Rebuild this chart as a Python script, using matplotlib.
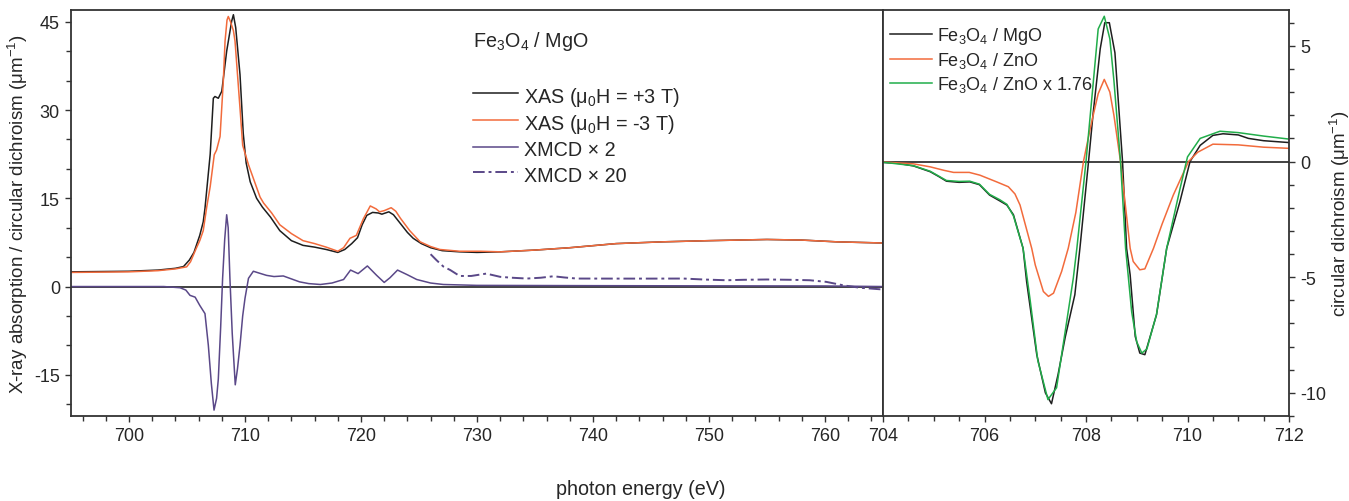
import numpy as np
import matplotlib
matplotlib.use('Agg')
import matplotlib.pyplot as plt
from matplotlib.ticker import MultipleLocator

plt.rcParams['font.family'] = ['Liberation Sans', 'DejaVu Sans']
plt.rcParams['mathtext.default'] = 'regular'
plt.rcParams['axes.unicode_minus'] = False
plt.rcParams['font.size'] = 13

# ---- left panel: XAS and XMCD of Fe3O4 / MgO ----
xas_p_e = [695, 700, 702.5, 704, 704.7, 705.2, 705.6, 706.1, 706.4, 706.55, 707.0, 707.27,
           707.41, 707.7, 708.0, 708.42, 708.85, 709.0, 709.2, 709.57, 709.85, 710.1, 710.45,
           711.0, 711.5, 712.2, 713.0, 714.0, 715.0, 716.0, 717.0, 718.0, 718.6, 719.2, 719.7,
           720.1, 720.5, 721.0, 721.5, 721.8, 722.4, 722.8, 723.4, 724.0, 724.5, 725.2, 726.0,
           727.0, 728.5, 730.0, 732.0, 735.0, 738.0, 742.0, 746.0, 750.0, 755.0, 758.0, 761.0, 765.0]
xas_p_v = [2.5, 2.6, 2.8, 3.1, 3.4, 4.5, 5.8, 8.7, 11.0, 13.3, 22.5, 32.0,
           32.3, 32.0, 33.2, 40.0, 45.1, 46.2, 44.0, 36.0, 26.0, 21.0, 17.8,
           15.0, 13.5, 11.8, 9.5, 7.8, 7.0, 6.7, 6.3, 5.8, 6.3, 7.3, 8.3,
           10.5, 12.1, 12.6, 12.5, 12.3, 12.7, 12.2, 10.7, 9.2, 8.2, 7.3, 6.6,
           6.1, 5.9, 5.8, 5.9, 6.2, 6.6, 7.3, 7.6, 7.8, 8.0, 7.9, 7.6, 7.4]

xas_m_e = [695, 700, 702.5, 704, 704.97, 705.3, 705.8, 706.1, 706.4, 706.7, 707.0, 707.35,
           707.55, 707.85, 708.13, 708.28, 708.45, 708.56, 708.75, 709.0, 709.14, 709.57, 709.8,
           710.3, 711.3, 711.6, 712.3, 713.0, 714.0, 715.0, 716.0, 717.0, 718.0, 718.5, 719.05,
           719.6, 720.2, 720.8, 721.3, 721.6, 722.0, 722.6, 723.0, 723.4, 724.2, 725.1, 726.0,
           726.8, 728.5, 730.3, 732.0, 735.0, 738.0, 742.0, 746.0, 750.0, 755.0, 758.0, 761.0, 765.0]
xas_m_v = [2.4, 2.5, 2.7, 3.0, 3.35, 4.2, 6.5, 7.8, 9.5, 13.5, 17.0, 22.4,
           23.2, 25.5, 34.9, 41.7, 45.3, 45.9, 45.0, 43.5, 41.7, 30.3, 24.0,
           20.7, 15.2, 14.2, 12.5, 10.5, 9.0, 7.8, 7.3, 6.7, 6.0, 6.6, 8.2,
           8.7, 11.5, 13.7, 13.2, 12.7, 12.9, 13.4, 12.8, 11.6, 9.5, 7.6, 6.8,
           6.3, 6.0, 6.0, 5.9, 6.2, 6.6, 7.3, 7.6, 7.8, 8.0, 7.9, 7.6, 7.4]

xmcd2_e = [695, 703, 704.4, 704.9, 705.26, 705.7, 706.1, 706.55, 706.84, 707.1, 707.33, 707.55,
           707.7, 707.9, 708.07, 708.25, 708.42, 708.55, 708.7, 708.9, 709.16, 709.35, 709.57,
           709.8, 710.0, 710.3, 710.72, 711.2, 711.86, 712.5, 713.3, 714.0, 714.7, 715.5, 716.5,
           717.5, 718.5, 719.1, 719.75, 720.55, 721.35, 722.0, 722.5, 723.15, 724.0, 724.8, 726.0,
           727.1, 730.0, 740.0, 750.0, 760.0, 765.0]
xmcd2_v = [0, 0, -0.2, -0.6, -1.5, -1.8, -3.2, -4.6, -10.0, -16.5, -21.0, -19.0,
           -15.7, -7.0, 1.4, 8.0, 12.2, 10.0, 1.4, -8.0, -16.7, -14.0, -10.0,
           -5.0, -2.0, 1.4, 2.6, 2.3, 1.9, 1.7, 1.8, 1.3, 0.8, 0.5, 0.35,
           0.6, 1.2, 2.8, 2.2, 3.5, 1.9, 0.7, 1.5, 2.8, 2.0, 1.2, 0.6,
           0.35, 0.2, 0.15, 0.12, 0.1, 0.0]

xmcd20_e = [726.0, 726.5, 727.1, 727.7, 728.5, 729.5, 730.8, 732.0, 733.0, 734.3, 735.5, 736.6,
            737.5, 738.6, 742.0, 745.0, 747.8, 749.5, 751.5, 753.0, 755.0, 757.0, 758.7, 760.1,
            761.6, 763.0, 765.0]
xmcd20_v = [5.5, 4.5, 3.4, 2.8, 1.8, 1.8, 2.2, 1.65, 1.5, 1.36, 1.5, 1.75,
            1.55, 1.36, 1.35, 1.35, 1.36, 1.2, 1.07, 1.15, 1.2, 1.15, 1.07, 0.8,
            0.2, -0.2, -0.5]

# ---- right panel: XMCD comparison ----
mgo_e = [704.0, 704.3, 704.6, 704.93, 705.1, 705.25, 705.5, 705.71, 705.9, 706.1, 706.3, 706.44,
         706.57, 706.76, 706.83, 707.03, 707.2, 707.32, 707.45, 707.59, 707.78, 707.88, 708.05,
         708.14, 708.28, 708.37, 708.46, 708.57, 708.72, 708.8, 708.87, 708.97, 709.06, 709.16,
         709.39, 709.59, 709.85, 710.05, 710.25, 710.5, 710.7, 711.0, 711.2, 711.5, 712.0]
mgo_v = [-0.04, -0.08, -0.19, -0.44, -0.65, -0.85, -0.9, -0.88, -1.0, -1.45, -1.7, -1.88,
         -2.3, -3.75, -5.19, -8.35, -10.0, -10.47, -9.2, -7.6, -5.76, -3.75, 0.0,
         2.07, 4.87, 6.0, 6.0, 4.7, 0.0, -3.75, -4.9, -7.56, -8.28, -8.35,
         -6.62, -3.75, -1.74, 0.0, 0.7, 1.13, 1.2, 1.15, 1.0, 0.9, 0.82]

zno_e = [704.0, 704.6, 704.93, 705.2, 705.39, 705.7, 705.91, 706.24, 706.47, 706.6, 706.7, 706.93,
         707.0, 707.16, 707.26, 707.36, 707.52, 707.65, 707.8, 707.95, 708.1, 708.24, 708.36,
         708.47, 708.55, 708.68, 708.87, 708.93, 709.06, 709.16, 709.33, 709.5, 709.72, 710.02,
         710.2, 710.5, 711.0, 711.5, 712.0]
zno_v = [-0.02, -0.1, -0.23, -0.38, -0.47, -0.47, -0.59, -0.88, -1.09, -1.4, -1.88, -3.75,
         -4.47, -5.62, -5.83, -5.69, -4.75, -3.75, -2.2, 0.0, 1.6, 2.93, 3.55,
         3.0, 2.0, 0.0, -3.75, -4.32, -4.68, -4.64, -3.75, -2.7, -1.45, 0.0,
         0.4, 0.75, 0.72, 0.62, 0.57]

zno176_e = [704.0, 704.6, 704.93, 705.25, 705.5, 705.71, 705.9, 706.1, 706.3, 706.44, 706.57, 706.76,
            706.9, 707.05, 707.25, 707.42, 707.6, 707.75, 707.82, 708.0, 708.24, 708.36, 708.47,
            708.55, 708.68, 708.78, 708.9, 709.0, 709.1, 709.2, 709.39, 709.59, 709.85, 710.0,
            710.25, 710.64, 711.0, 711.5, 712.0]
zno176_v = [-0.03, -0.18, -0.42, -0.82, -0.86, -0.85, -0.98, -1.42, -1.65, -1.85, -2.35, -3.75,
            -6.0, -8.6, -10.29, -9.78, -7.2, -5.04, -3.75, 0.0, 5.73, 6.28, 5.3,
            3.5, 0.0, -3.75, -6.5, -7.8, -8.28, -8.1, -6.6, -3.75, -1.2, 0.2,
            1.0, 1.31, 1.25, 1.1, 0.97]

BLACK = '#1e1e1e'
ORANGE = '#f26b3c'
PURPLE = '#5a4888'
GREEN = '#21ad4a'
SPINE = '#333333'
TEXT = '#262626'


def style_axes(ax):
    for sp in ax.spines.values():
        sp.set_color(SPINE)
        sp.set_linewidth(1.3)
    ax.tick_params(which='major', direction='out', length=4.5, width=1.0, color=SPINE,
                   labelsize=13, labelcolor=TEXT)
    ax.tick_params(which='minor', direction='out', length=3.5, width=1.0, color=SPINE)


fig = plt.figure(figsize=(13.49, 5.02), dpi=100)
ax1 = fig.add_axes([71 / 1349, 85 / 502, 812 / 1349, 406 / 502])
ax2 = fig.add_axes([883 / 1349, 85 / 502, 406 / 1349, 406 / 502])

# left panel
ax1.axhline(0, color=SPINE, lw=1.3, zorder=1)
ax1.plot(xas_p_e, xas_p_v, color=BLACK, lw=1.1, label='XAS (μ$_0$H = +3 T)')
ax1.plot(xas_m_e, xas_m_v, color=ORANGE, lw=1.1, label='XAS (μ$_0$H = -3 T)')
ax1.plot(xmcd2_e, xmcd2_v, color=PURPLE, lw=1.1, label='XMCD × 2')
ax1.plot(xmcd20_e, xmcd20_v, color=PURPLE, lw=1.4, ls=(0, (6, 2, 1.5, 2)), label='XMCD × 20')
ax1.set_xlim(695, 765)
ax1.set_ylim(-22, 47)
ax1.set_xticks([700, 710, 720, 730, 740, 750, 760])
ax1.xaxis.set_minor_locator(MultipleLocator(2))
ax1.yaxis.set_major_locator(MultipleLocator(15))
ax1.yaxis.set_minor_locator(MultipleLocator(5))
style_axes(ax1)
ax1.set_ylabel('X-ray absorption / circular dichroism (μm$^{-1}$)', fontsize=13.5,
               color=TEXT, labelpad=3)
ax1.text(0.495, 0.924, 'Fe$_3$O$_4$ / MgO', transform=ax1.transAxes, fontsize=14.2,
         color=TEXT, va='center', ha='left')
ax1.legend(loc='upper left', bbox_to_anchor=(0.495, 0.817), frameon=False, fontsize=14.2,
           handlelength=2.3, handletextpad=0.27, handleheight=1.3, labelspacing=0.18,
           borderpad=0, borderaxespad=0, labelcolor=TEXT)

# right panel
ax2.axhline(0, color=SPINE, lw=1.3, zorder=1)
ax2.plot(mgo_e, mgo_v, color=BLACK, lw=1.1, label='Fe$_3$O$_4$ / MgO')
ax2.plot(zno_e, zno_v, color=ORANGE, lw=1.1, label='Fe$_3$O$_4$ / ZnO')
ax2.plot(zno176_e, zno176_v, color=GREEN, lw=1.1, label='Fe$_3$O$_4$ / ZnO x 1.76')
ax2.set_xlim(704, 712)
ax2.set_ylim(-11.0, 6.55)
ax2.xaxis.set_major_locator(MultipleLocator(2))
ax2.xaxis.set_minor_locator(MultipleLocator(0.5))
ax2.yaxis.set_major_locator(MultipleLocator(5))
ax2.yaxis.set_minor_locator(MultipleLocator(1))
ax2.yaxis.tick_right()
ax2.yaxis.set_label_position('right')
style_axes(ax2)
ax2.tick_params(axis='y', which='both', left=False, right=True, labelleft=False, labelright=True)
ax2.set_ylabel('circular dichroism (μm$^{-1}$)', fontsize=13.5, color=TEXT,
               rotation=90, labelpad=1)
ax2.legend(loc='upper left', bbox_to_anchor=(0.017, 0.963), frameon=False, fontsize=13,
           handlelength=2.33, handletextpad=0.28, labelspacing=0.22, borderpad=0,
           borderaxespad=0, labelcolor=TEXT)

fig.text(641 / 1349, 12 / 502, 'photon energy (eV)', ha='center', va='center',
         fontsize=14.2, color=TEXT)

fig.savefig('out.png', dpi=100)
